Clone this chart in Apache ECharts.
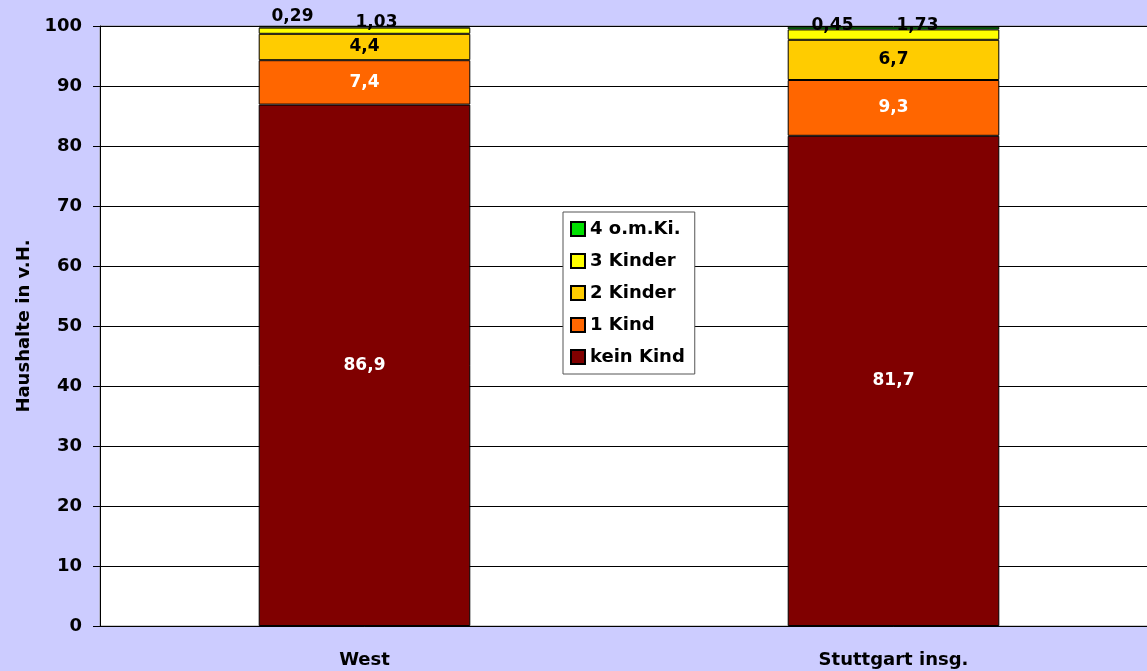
<!DOCTYPE html>
<html>
<head>
<meta charset="utf-8">
<script src="https://cdn.jsdelivr.net/npm/echarts@6/dist/echarts.min.js"></script>
<style>
  html, body { margin: 0; padding: 0; background: #ccccff; overflow: hidden; }
  #main { width: 1158px; height: 671px; }
</style>
</head>
<body>
<div id="main"></div>
<script>
var categories = ['West', 'Stuttgart insg.'];
var keinKind = [86.9, 81.7];
var einKind = [7.4, 9.3];
var zweiKinder = [4.4, 6.7];
var dreiKinder = [1.03, 1.73];
var vierKinder = [0.29, 0.45];
var yTicks = [0, 10, 20, 30, 40, 50, 60, 70, 80, 90, 100];

// label shifts for the thin top segments (as in the original)
var dreiOffsets = [[12, -8], [24, -9]];
var vierOffsets = [[-72, -10], [-61, -2]];

var font = 'DejaVu Sans';

function komma(p) {
    return String(p.value).replace('.', ',');
}

function seg(name, values, color, labelColor, offsets) {
    return {
        name: name,
        type: 'bar',
        stack: 'haushalte',
        barWidth: '40%',
        itemStyle: { color: color, borderColor: '#000', borderWidth: 1 },
        label: {
            show: true,
            position: 'inside',
            formatter: komma,
            color: labelColor,
            fontFamily: font,
            fontWeight: 'bold',
            fontSize: 17
        },
        data: values.map(function (v, i) {
            var d = { value: v };
            if (offsets) {
                d.label = { offset: offsets[i] };
            }
            return d;
        })
    };
}

// plot area runs a little past the right edge of the window, like the original
var chart = echarts.init(document.getElementById('main'));
var option = {
    backgroundColor: '#ccccff',
    animation: false,
    grid: {
        left: 100,
        top: 26,
        right: 0,
        height: 600,
        show: true,
        backgroundColor: '#ffffff',
        borderColor: '#999999',
        borderWidth: 1
    },
    legend: {
        data: ['4 o.m.Ki.', '3 Kinder', '2 Kinder', '1 Kind', 'kein Kind'],
        orient: 'vertical',
        left: 563,
        top: 212,
        backgroundColor: '#ffffff',
        borderColor: '#555555',
        borderWidth: 1,
        padding: [8, 10, 8, 7],
        itemWidth: 14,
        itemHeight: 14,
        itemGap: 14,
        icon: 'rect',
        textStyle: { fontFamily: font, fontWeight: 'bold', fontSize: 18, color: '#000' }
    },
    xAxis: {
        type: 'category',
        data: categories,
        axisLine: { lineStyle: { color: '#000' } },
        axisTick: { show: false },
        axisLabel: { fontFamily: font, fontWeight: 'bold', fontSize: 18, color: '#000', margin: 25 }
    },
    yAxis: {
        type: 'value',
        min: yTicks[0],
        max: yTicks[yTicks.length - 1],
        interval: yTicks[1] - yTicks[0],
        name: 'Haushalte in v.H.',
        nameLocation: 'middle',
        nameGap: 67,
        nameRotate: 90,
        nameTextStyle: { fontFamily: font, fontWeight: 'bold', fontSize: 18, color: '#000' },
        axisLine: { show: true, lineStyle: { color: '#000' } },
        axisTick: { show: true, length: 7, lineStyle: { color: '#000' } },
        axisLabel: { fontFamily: font, fontWeight: 'bold', fontSize: 18, color: '#000', margin: 18 },
        splitLine: { lineStyle: { color: '#000', width: 1 } }
    },
    series: [
        seg('kein Kind', keinKind, '#800000', '#ffffff'),
        seg('1 Kind', einKind, '#ff6600', '#ffffff'),
        seg('2 Kinder', zweiKinder, '#ffcc00', '#000000'),
        seg('3 Kinder', dreiKinder, '#ffff00', '#000000', dreiOffsets),
        seg('4 o.m.Ki.', vierKinder, '#00e000', '#000000', vierOffsets)
    ]
};
option && chart.setOption(option);
</script>
</body>
</html>
